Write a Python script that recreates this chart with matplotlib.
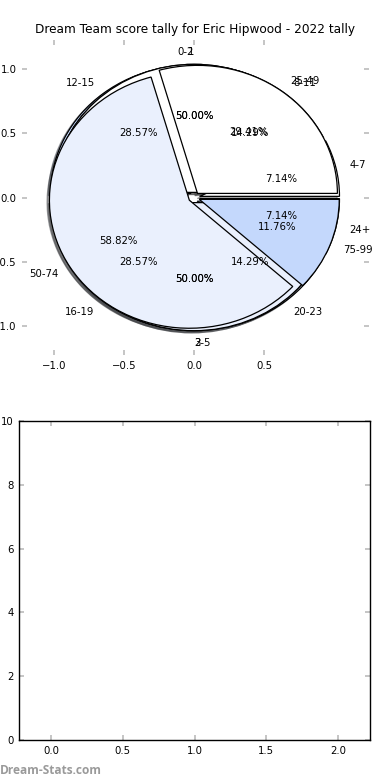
import matplotlib
matplotlib.use("Agg")
import matplotlib.pyplot as plt

# ---- data ----
score_labels = ['4-7', '8-11', '12-15', '16-19', '20-23', '24+']
score_values = [1, 2, 4, 4, 2, 1]
pie1_labels = ['1', '2']
pie1_values = [1, 1]
pie2_labels = ['0-2', '3-5']
pie2_values = [1, 1]
tally_labels = ['25-49', '50-74', '75-99']
tally_values = [5, 10, 2]

pie_colors = ['#ffffff', '#eaf0fd', '#c4d8fc']
title = 'Dream Team score tally for Eric Hipwood - 2022 tally'

plt.rcParams['font.family'] = ['DejaVu Sans']
FS = 7.3

fig = plt.figure(figsize=(3.9, 7.8), dpi=100)
ax = fig.add_axes([22/390, 1-355/780, 347/390, 315/780])

def draw_pie(labels, values):
    n = len(values)
    cols = [pie_colors[i % len(pie_colors)] for i in range(n)]
    ax.pie(values, labels=labels, colors=cols, explode=[0.04]*n,
           autopct='%.2f%%', shadow=dict(ox=-0.012, oy=-0.012),
           startangle=0, labeldistance=1.1, pctdistance=0.6,
           wedgeprops=dict(edgecolor='black', linewidth=0.9),
           textprops=dict(fontsize=FS, color='black'))

for lab, val in [(score_labels, score_values), (pie1_labels, pie1_values),
                 (pie2_labels, pie2_values), (tally_labels, tally_values)]:
    draw_pie(lab, val)

ax.set_aspect('auto')
ax.set_frame_on(False)
ax.set_xlim(-1.23, 1.25)
ax.set_ylim(-1.23, 1.23)
ax.set_xticks([-1.0, -0.5, 0.0, 0.5])
ax.set_yticks([-1.0, -0.5, 0.0, 0.5, 1.0])
ax.tick_params(direction='in', length=3.5, width=1.2, color='#bbbbbb',
               labelsize=FS, top=True, right=True, pad=4)

fig.text(195/390, 1-30/780, title, ha='center', va='center', fontsize=8.7)

ax2 = fig.add_axes([19/390, 1-740/780, 351/390, 319/780])
ax2.set_xlim(-0.223, 2.223)
ax2.set_ylim(0, 10)
ax2.set_xticks([0.0, 0.5, 1.0, 1.5, 2.0])
ax2.set_yticks([0, 2, 4, 6, 8, 10])
ax2.tick_params(direction='in', length=3.5, width=1.2, color='#bbbbbb',
                labelsize=FS, top=True, right=True, pad=4)
for s in ax2.spines.values():
    s.set_linewidth(1.0)

fig.text(0.0, 1-770/780, 'Dream-Stats.com', ha='left', va='center',
         fontsize=8.6, fontweight='bold', color='#9a9a9a', family='Open Sans')

fig.savefig('out.png', dpi=100)
